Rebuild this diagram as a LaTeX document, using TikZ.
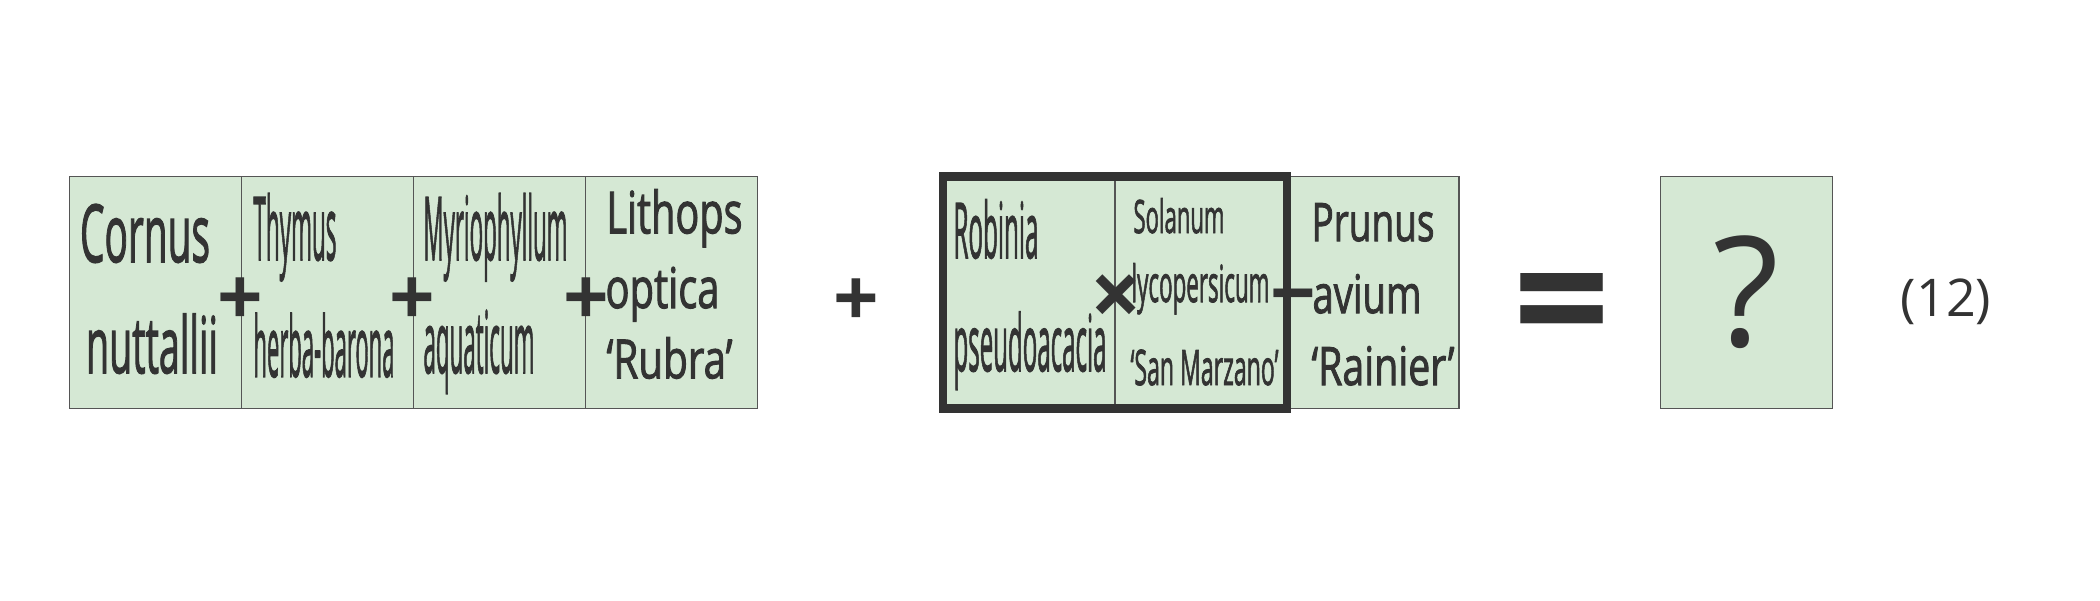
\documentclass[tikz,border=0pt]{standalone}
\usepackage{fontspec}
\usepackage{graphicx}
\setmainfont{Open Sans}
\newfontfamily\opfont{Open Sans}
\newfontfamily\plantfont{Open Sans}[FakeBold=2]
\definecolor{boxfill}{HTML}{D5E8D4}
\definecolor{inkgray}{HTML}{333333}
\definecolor{boxline}{HTML}{555555}
\newcommand{\fitline}[3]{{\plantfont\fontsize{#1}{#1}\selectfont\resizebox{#2pt}{\height}{#3}}}
\tikzset{
  plantbox/.style={draw=boxline, line width=1.3pt, fill=boxfill, minimum width=172pt, minimum height=232pt, inner sep=0pt, outer sep=0pt},
  frame/.style={draw=inkgray, line width=8.5pt},
  txt/.style={anchor=base west, inner sep=0pt, outer sep=0pt, text=inkgray},
  oper/.style={anchor=center, inner sep=0pt, outer sep=0pt, text=inkgray, font=\opfont\bfseries},
  plain/.style={anchor=center, inner sep=0pt, outer sep=0pt, text=inkgray, font=\opfont},
}
\begin{document}
\begin{tikzpicture}[x=1pt, y=-1pt]
\useasboundingbox (0,0) rectangle (2100,600);
\fill[white] (0,0) rectangle (2100,600);
% boxes
\node[plantbox] (b1) at (155.5,292.5) {};
\node[plantbox] (b2) at (327.5,292.5) {};
\node[plantbox] (b3) at (499.5,292.5) {};
\node[plantbox] (b4) at (671.5,292.5) {};
\node[plantbox] (b5) at (1029,292.5) {};
\node[plantbox] (b6) at (1201,292.5) {};
\node[plantbox] (b7) at (1373,292.5) {};
\node[plantbox] (b8) at (1746.5,292.5) {};
\draw[frame] (b5.north west) rectangle (b6.south east);
% texts
\node[txt] (t1a) at (80,262) {\fitline{80}{130}{Cornus}};
\node[txt] (t1b) at (86,373) {\fitline{78}{132}{nuttallii}};
\node[txt] (t2a) at (253.5,260) {\fitline{88}{83}{Thymus}};
\node[txt] (t2b) at (253.5,376.7) {\fitline{84}{141}{herba-barona}};
\node[txt] (t3a) at (423.5,260) {\fitline{88}{144}{Myriophyllum}};
\node[txt] (t3b) at (423.5,373) {\fitline{86}{111}{aquaticum}};
\node[txt] (t4a) at (606.5,233.3) {\fitline{58}{136}{Lithops}};
\node[txt] (t4b) at (605.5,308) {\fitline{56}{114}{optica}};
\node[txt] (t4c) at (606.5,378.3) {\fitline{54}{126}{‘Rubra’}};
\node[txt] (t5a) at (953.5,258) {\fitline{77}{85}{Robinia}};
\node[txt] (t5b) at (953.5,371) {\fitline{78}{153}{pseudoacacia}};
\node[txt] (t6a) at (1133.5,233) {\fitline{46}{91}{Solanum}};
\node[txt] (t6b) at (1131.5,302) {\fitline{51}{138}{lycopersicum}};
\node[txt] (t6c) at (1130.5,385) {\fitline{49}{148}{‘San Marzano’}};
\node[txt] (t7a) at (1311.5,241) {\fitline{53}{123}{Prunus}};
\node[txt] (t7b) at (1312.5,313) {\fitline{53}{109}{avium}};
\node[txt] (t7c) at (1311.5,385) {\fitline{53}{143}{‘Rainier’}};
% operators
\node[oper, font=\opfont\bfseries\fontsize{80}{80}\selectfont] (p1) at (240,302) {+};
\node[oper, font=\opfont\bfseries\fontsize{80}{80}\selectfont] (p2) at (412.5,302) {+};
\node[oper, font=\opfont\bfseries\fontsize{80}{80}\selectfont] (p3) at (586,302) {+};
\node[oper, font=\opfont\bfseries\fontsize{80}{80}\selectfont] (p4) at (856.5,303) {+};
\node[oper, font=\opfont\bfseries\fontsize{90}{90}\selectfont] (x1) at (1116,301) {×};
\node[oper, font=\opfont\bfseries\fontsize{80}{80}\selectfont] (m1) at (1293,305) {−};
\node[oper, font=\opfont\bfseries\fontsize{170}{170}\selectfont] (eq) at (1561.5,316) {=};
\node[plain, font=\opfont\fontsize{153}{153}\selectfont] (q) at (1746.5,292.5) {?};
\node[plain, font=\opfont\fontsize{52}{52}\selectfont] (num) at (1946,302) {(12)};
\end{tikzpicture}
\end{document}
